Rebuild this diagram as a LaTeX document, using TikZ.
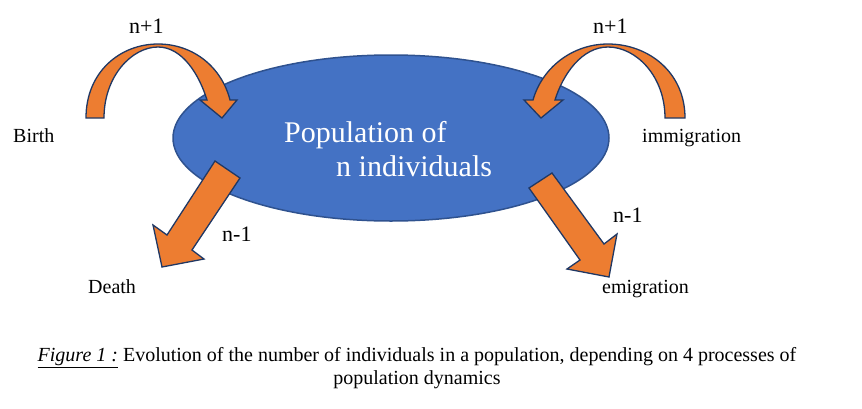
\documentclass[tikz,border=0pt]{standalone}
\usepackage{fontspec}
\setmainfont{Liberation Serif}
\usepackage{xcolor}
\usetikzlibrary{shapes.geometric}
\definecolor{popblue}{HTML}{4472C4}
\definecolor{popedge}{HTML}{2F528F}
\definecolor{arrorange}{HTML}{ED7D31}
\definecolor{arredge}{HTML}{203864}
\tikzstyle{every node}=[font=\fontsize{20}{23}\selectfont, inner sep=0pt]
\tikzstyle{blockarrow}=[fill=arrorange, draw=arredge, line width=1.3pt, line join=miter]
\tikzstyle{label}=[anchor=base west]

\begin{document}
\begin{tikzpicture}[x=1pt, y=-1pt]
        \useasboundingbox (0,0) rectangle (862,408);
        % the population
        \node [ellipse, fill=popblue, draw=popedge, line width=1.5pt,
            minimum width=436pt, minimum height=166pt] (pop) at (391,138) {};
        \node [label, text=white, font=\fontsize{30}{34}\selectfont] (poptop) at (284,142) {Population of};
        \node [label, text=white, font=\fontsize{30}{34}\selectfont] (popbot) at (336,176) {n individuals};
        % birth
        \draw [blockarrow] (86,118) .. controls (86,72) and (120,44) .. (158,44)
            .. controls (194,44) and (222,68) .. (230,100) -- (237,100) -- (222,118)
            -- (200,100) -- (207,100) .. controls (199,74) and (182,47) .. (158,47)
            .. controls (132,47) and (104,76) .. (104,118) -- cycle;
        % immigration
        \draw [blockarrow] (685,118) .. controls (685,72) and (648,44) .. (608,44)
            .. controls (572,44) and (542,68) .. (533,100) -- (524,100) -- (541,118)
            -- (563,100) -- (555,100) .. controls (563,74) and (582,47) .. (608,47)
            .. controls (636,47) and (665,76) .. (665,118) -- cycle;
        % death
        \draw [blockarrow] (215,161) -- (240,178) -- (192,250) -- (204,259)
            -- (162,267) -- (153,225) -- (167,235) -- cycle;
        % emigration
        \draw [blockarrow] (529,188) -- (552,173) -- (604,244) -- (617,234)
            -- (609,277) -- (567,269) -- (580,260) -- cycle;
        % texts
        \node [label] (birth) at (13,142) {Birth};
        \node [label] (immig) at (642,142) {immigration};
        \node [label] (death) at (88,293) {Death};
        \node [label] (emig) at (602,293) {emigration};
        \node [label, font=\fontsize{22}{25}\selectfont] (inbirth) at (129,33) {n+1};
        \node [label, font=\fontsize{22}{25}\selectfont] (inimmig) at (593,33) {n+1};
        \node [label, font=\fontsize{22}{25}\selectfont] (outdeath) at (222,241) {n-1};
        \node [label, font=\fontsize{22}{25}\selectfont] (outemig) at (613,222) {n-1};
        \node [align=center] (caption) at (417,368)
            {\underline{\textit{Figure 1 :}} Evolution of the number of individuals in a population, depending on 4 processes of\\
            population dynamics};
\end{tikzpicture}
\end{document}
